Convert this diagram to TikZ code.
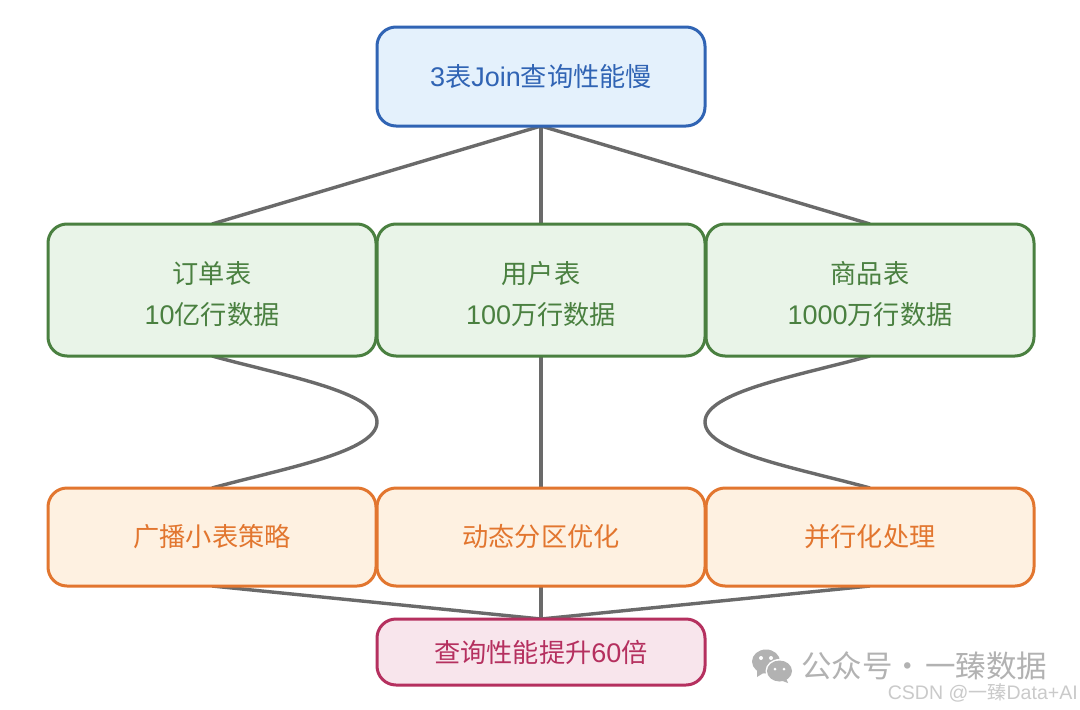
\documentclass[tikz,border=0pt]{standalone}
\usepackage{fontspec}
\setmainfont[Scale=1.03]{Liberation Sans}
\newfontfamily\cjk{Noto Sans CJK SC}
\newcommand{\zh}[1]{{\cjk #1}}
\newcommand{\lowerline}[1]{\raisebox{-4pt}[\height][\depth]{#1}}
\definecolor{bluel}{HTML}{3064B4}\definecolor{bluef}{HTML}{E4F1FC}
\definecolor{greenl}{HTML}{4A8040}\definecolor{greenf}{HTML}{E9F4E8}
\definecolor{orangel}{HTML}{E2762F}\definecolor{orangef}{HTML}{FEF1E1}
\definecolor{pinkl}{HTML}{B5305F}\definecolor{pinkf}{HTML}{F8E5EC}
\definecolor{edgec}{HTML}{6A6A6A}
\definecolor{wm}{HTML}{B2B2B2}\definecolor{wmb}{HTML}{CACACA}
\tikzset{
  x=1pt,y=-1pt,
  boxbase/.style={draw,line width=3pt,rounded corners=19pt,inner sep=0pt,minimum width=328pt,align=center,font=\fontsize{26.2}{41}\selectfont},
  bluebox/.style={boxbase,draw=bluel,fill=bluef,text=bluel,minimum height=99pt},
  greenbox/.style={boxbase,draw=greenl,fill=greenf,text=greenl,minimum height=132pt},
  orangebox/.style={boxbase,draw=orangel,fill=orangef,text=orangel,minimum height=98pt},
  pinkbox/.style={boxbase,draw=pinkl,fill=pinkf,text=pinkl,minimum height=66pt},
  conn/.style={draw=edgec,line width=3.4pt},
  wmtext/.style={text=wm,inner sep=0pt,font=\fontsize{30.5}{34}\selectfont},
  wmsmall/.style={text=wmb,inner sep=0pt,font=\fontsize{19}{22}\selectfont}
}
\begin{document}
\begin{tikzpicture}
\useasboundingbox (0,0) rectangle (1080,710);
\fill[white] (0,0) rectangle (1080,710);
% connectors first
\coordinate (tb) at (541,126);
\coordinate (g1t) at (212,224);\coordinate (g2t) at (541,224);\coordinate (g3t) at (870,224);
\coordinate (g1b) at (212,356);\coordinate (g2b) at (541,356);\coordinate (g3b) at (870,356);
\coordinate (o1t) at (212,488);\coordinate (o2t) at (541,488);\coordinate (o3t) at (870,488);
\coordinate (o1b) at (212,586);\coordinate (o2b) at (541,586);\coordinate (o3b) at (870,586);
\coordinate (pt) at (541,619);
\coordinate (bendl) at (377,422);\coordinate (bendr) at (705,422);
\draw[conn] (tb) -- (g1t);
\draw[conn] (tb) -- (g2t);
\draw[conn] (tb) -- (g3t);
\draw[conn] (g2b) -- (o2t);
\draw[conn] (g1b) .. controls (285,376) and (377,392) .. (bendl) .. controls (377,452) and (285,468) .. (o1t);
\draw[conn] (g3b) .. controls (797,376) and (705,392) .. (bendr) .. controls (705,452) and (797,468) .. (o3t);
\draw[conn] (o1b) -- (pt);
\draw[conn] (o2b) -- (pt);
\draw[conn] (o3b) -- (pt);
% boxes
\node[bluebox] (top) at (541,76.5) {3\zh{表}Join\zh{查询性能慢}};
\node[greenbox] (g1) at (212,290) {\lowerline{\zh{订单表}}\\\lowerline{10\zh{亿行数据}}};
\node[greenbox] (g2) at (541,290) {\lowerline{\zh{用户表}}\\\lowerline{100\zh{万行数据}}};
\node[greenbox] (g3) at (870,290) {\lowerline{\zh{商品表}}\\\lowerline{1000\zh{万行数据}}};
\node[orangebox] (o1) at (212,537) {\zh{广播小表策略}};
\node[orangebox] (o2) at (541,537) {\zh{动态分区优化}};
\node[orangebox] (o3) at (870,537) {\zh{并行化处理}};
\node[pinkbox] (res) at (541,652) {\zh{查询性能提升}60\zh{倍}};
% watermark
\fill[wm] (766,661.5) ellipse [x radius=14,y radius=12];
\fill[wm] (757,670) -- (757,677) -- (765,672) -- cycle;
\fill[white] (779.5,671) ellipse [x radius=14,y radius=12];
\fill[wm] (779.5,671) ellipse [x radius=12.5,y radius=10.5];
\fill[wm] (786,678) -- (788,683) -- (780,680) -- cycle;
\fill[white] (761,658) circle (2) (771,658) circle (2) (775,669) circle (1.5) (784,669) circle (1.5);
\node[wmtext,anchor=west] (wm1) at (801,666) {\zh{公众号·\kern2pt一臻数据}};
\node[wmsmall,anchor=east] (wm2) at (1078,693) {CSDN @\zh{一臻}Data+AI};
\end{tikzpicture}
\end{document}
